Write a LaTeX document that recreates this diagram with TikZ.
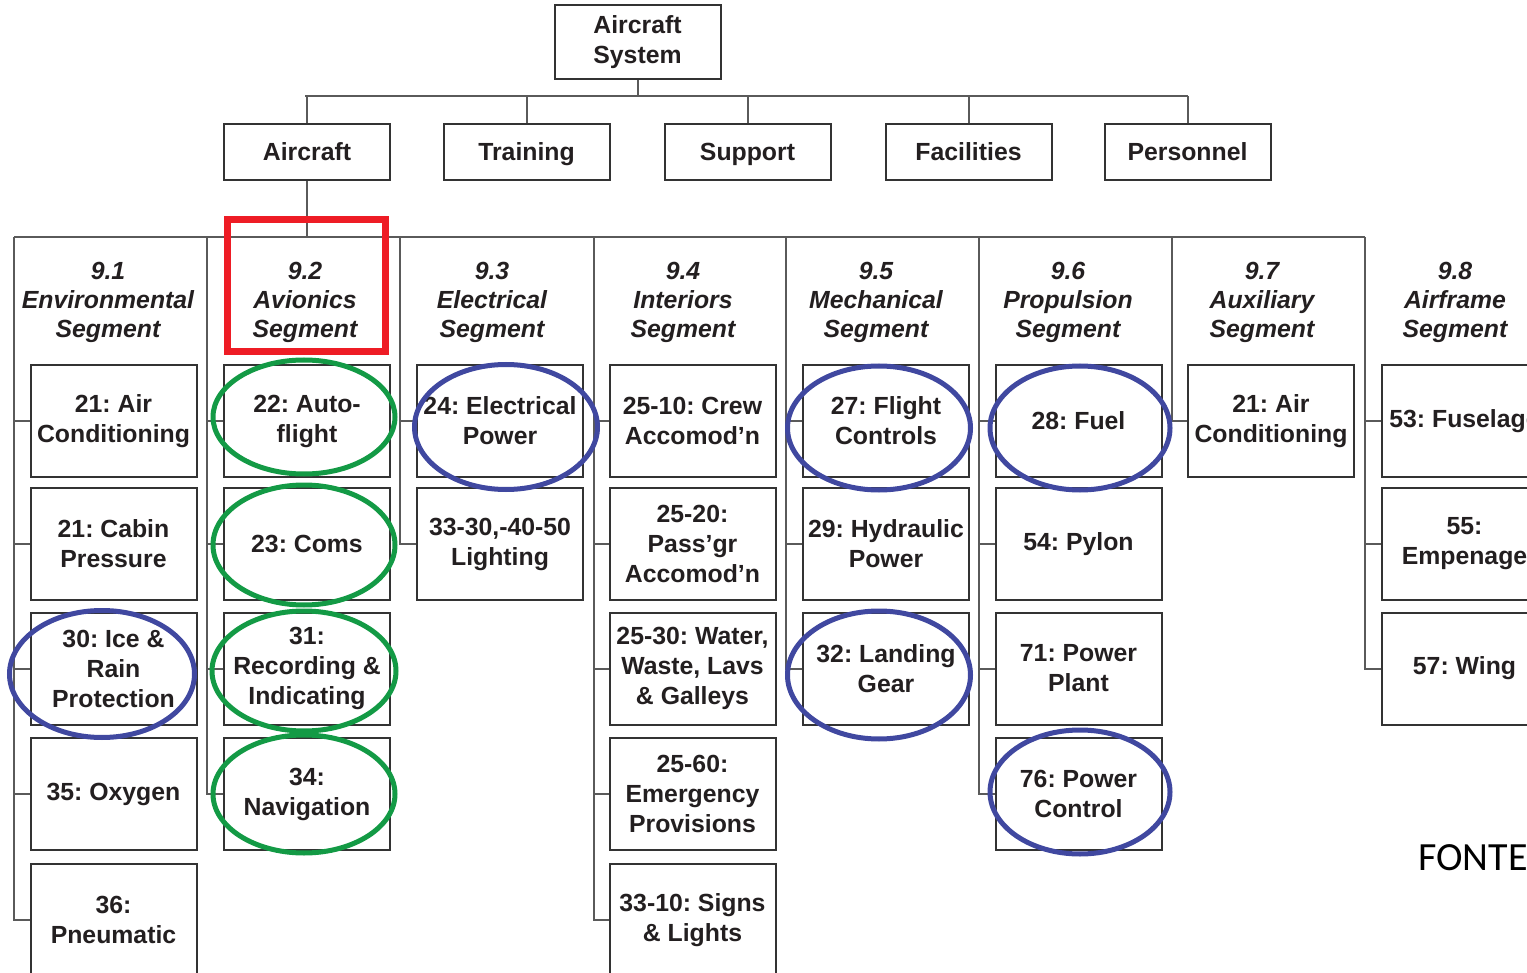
\documentclass[tikz,border=0pt]{standalone}
\usepackage{fontspec}
\setmainfont{Liberation Sans}
\newfontfamily\notefont{Carlito}
\usetikzlibrary{calc}
\frenchspacing

\definecolor{ink}{HTML}{231F20}
\definecolor{boxline}{HTML}{333333}
\definecolor{wire}{HTML}{5A5A5A}
\definecolor{markred}{HTML}{EE1C25}
\definecolor{markgreen}{HTML}{139A45}
\definecolor{markblue}{HTML}{4048A0}

\newcommand\boxfnt{\fontsize{12.4}{15}\selectfont\bfseries}
\newcommand\segfnt{\fontsize{12.4}{14.5}\selectfont\bfseries\itshape}

\tikzset{
  wbox/.style={draw=boxline, line width=1pt, fill=white, minimum width=83pt,
    minimum height=56pt, inner sep=0pt, align=center, font=\boxfnt, text=ink},
  topbox/.style={wbox, minimum height=37pt},
  lvlbox/.style={wbox, minimum height=28pt, text height=10pt, text depth=1.6pt},
  seghead/.style={align=center, font=\segfnt, text=ink, inner sep=0pt},
  wiring/.style={draw=wire, line width=1pt},
  greenmark/.style={draw=markgreen, line width=2.5pt},
  bluemark/.style={draw=markblue, line width=2.5pt},
  redmark/.style={draw=markred, line width=3.5pt},
}

\begin{document}
\begin{tikzpicture}[x=0.5pt, y=-0.5pt]
\useasboundingbox (0,0) rectangle (1527,973);
\clip (0,0) rectangle (1527,973);

% top levels
\node[topbox] (root) at (637.5,42) {Aircraft\\System};
\node[lvlbox] (aircraft)   at (307,152)    {Aircraft};
\node[lvlbox] (training)   at (526.5,152)  {Training};
\node[lvlbox] (support)    at (747.5,152)  {Support};
\node[lvlbox] (facilities) at (968.5,152)  {Facilities};
\node[lvlbox] (personnel)  at (1187.5,152) {Personnel};

% second-level bus
\coordinate (busL) at (305,96);
\coordinate (busR) at (1188,96);
\draw[wiring] (busL) -- (busR);
\draw[wiring] (root.south) -- (root.south |- busL);
\foreach \n in {aircraft,training,support,facilities,personnel}
  \draw[wiring] (\n.north) -- (\n.north |- busL);

% segment bus
\coordinate (segL) at (14,237);
\coordinate (segR) at (1365,237);
\draw[wiring] (segL) -- (segR);
\draw[wiring] (aircraft.south) -- (aircraft.south |- segL);

% segment headings
\node[seghead] (s1) at (108,302)  {9.1\\Environmental\\Segment};
\node[seghead] (s2) at (305,302)  {9.2\\Avionics\\Segment};
\node[seghead] (s3) at (492,302)  {9.3\\Electrical\\Segment};
\node[seghead] (s4) at (683,302)  {9.4\\Interiors\\Segment};
\node[seghead] (s5) at (876,302)  {9.5\\Mechanical\\Segment};
\node[seghead] (s6) at (1068,302) {9.6\\Propulsion\\Segment};
\node[seghead] (s7) at (1262,302) {9.7\\Auxiliary\\Segment};
\node[seghead] (s8) at (1455,302) {9.8\\Airframe\\Segment};

% column rails
\coordinate (c1) at (14,237);
\coordinate (c2) at (207,237);
\coordinate (c3) at (400,237);
\coordinate (c4) at (594,237);
\coordinate (c5) at (786,237);
\coordinate (c6) at (979,237);
\coordinate (c7) at (1172,237);
\coordinate (c8) at (1365,237);

% 9.1 Environmental
\node[wbox] (e21a) at (113.5,421)   {21: Air\\Conditioning};
\node[wbox] (e21b) at (113.5,544)   {21: Cabin\\Pressure};
\node[wbox] (e30)  at (113.5,668.5) {30: Ice \&\\Rain\\Protection};
\node[wbox] (e35)  at (113.5,794)   {35: Oxygen};
\node[wbox] (e36)  at (113.5,920)   {36:\\Pneumatic};
% 9.2 Avionics
\node[wbox] (v22) at (307,421)   {22: Auto-\\flight};
\node[wbox] (v23) at (307,544)   {23: Coms};
\node[wbox] (v31) at (307,668.5) {31:\\Recording \&\\Indicating};
\node[wbox] (v34) at (307,794)   {34:\\Navigation};
% 9.3 Electrical
\node[wbox] (l24) at (500,421) {24: Electrical\\Power};
\node[wbox] (l33) at (500,544) {33-30,-40-50\\Lighting};
% 9.4 Interiors
\node[wbox] (i2510) at (692.5,421)   {25-10: Crew\\Accomod’n};
\node[wbox] (i2520) at (692.5,544)   {25-20:\\Pass’gr\\Accomod’n};
\node[wbox] (i2530) at (692.5,668.5) {25-30: Water,\\Waste, Lavs\\\& Galleys};
\node[wbox] (i2560) at (692.5,794)   {25-60:\\Emergency\\Provisions};
\node[wbox] (i3310) at (692.5,920)   {33-10: Signs\\\& Lights};
% 9.5 Mechanical
\node[wbox] (m27) at (886,421)   {27: Flight\\Controls};
\node[wbox] (m29) at (886,544)   {29: Hydraulic\\Power};
\node[wbox] (m32) at (886,668.5) {32: Landing\\Gear};
% 9.6 Propulsion
\node[wbox] (p28) at (1078.5,421)   {28: Fuel};
\node[wbox] (p54) at (1078.5,544)   {54: Pylon};
\node[wbox] (p71) at (1078.5,668.5) {71: Power\\Plant};
\node[wbox] (p76) at (1078.5,794)   {76: Power\\Control};
% 9.7 Auxiliary
\node[wbox] (x21) at (1271,421) {21: Air\\Conditioning};
% 9.8 Airframe
\node[wbox] (f53) at (1464.5,421)   {53: Fuselage};
\node[wbox] (f55) at (1464.5,544)   {55:\\Empenage};
\node[wbox] (f57) at (1464.5,668.5) {57: Wing};

% rails and stubs
\draw[wiring] (c1) -- (c1 |- e36.west) -- (e36.west);
\foreach \n in {e21a,e21b,e30,e35} \draw[wiring] (\n.west) -- (\n.west -| c1);
\draw[wiring] (c2) -- (c2 |- v34.west) -- (v34.west);
\foreach \n in {v22,v23,v31} \draw[wiring] (\n.west) -- (\n.west -| c2);
\draw[wiring] (c3) -- (c3 |- l33.west) -- (l33.west);
\draw[wiring] (l24.west) -- (l24.west -| c3);
\draw[wiring] (c4) -- (c4 |- i3310.west) -- (i3310.west);
\foreach \n in {i2510,i2520,i2530,i2560} \draw[wiring] (\n.west) -- (\n.west -| c4);
\draw[wiring] (c5) -- (c5 |- m32.west) -- (m32.west);
\foreach \n in {m27,m29} \draw[wiring] (\n.west) -- (\n.west -| c5);
\draw[wiring] (c6) -- (c6 |- p76.west) -- (p76.west);
\foreach \n in {p28,p54,p71} \draw[wiring] (\n.west) -- (\n.west -| c6);
\draw[wiring] (c7) -- (c7 |- x21.west) -- (x21.west);
\draw[wiring] (c8) -- (c8 |- f57.west) -- (f57.west);
\foreach \n in {f53,f55} \draw[wiring] (\n.west) -- (\n.west -| c8);

% highlighted avionics items
\draw[greenmark] ($(v22)+(-3,-4)$)  ellipse [x radius=45.5pt, y radius=28.5pt];
\draw[greenmark] ($(v23)+(-3,1)$)   ellipse [x radius=45.5pt, y radius=30pt];
\draw[greenmark] ($(v31)+(-3,2.5)$) ellipse [x radius=46pt, y radius=30pt];
\draw[greenmark] ($(v34)+(-3,0)$)   ellipse [x radius=45.5pt, y radius=29.5pt];

% highlighted items in other segments
\draw[bluemark] ($(e30)+(-11.5,5.5)$) ellipse [x radius=46.25pt, y radius=31.75pt];
\draw[bluemark] ($(l24)+(6,6)$)       ellipse [x radius=45.75pt, y radius=31.25pt];
\draw[bluemark] ($(m27)+(-7,7)$)      ellipse [x radius=45.75pt, y radius=31pt];
\draw[bluemark] ($(p28)+(1.5,7)$)     ellipse [x radius=45pt, y radius=31pt];
\draw[bluemark] ($(m32)+(-7,6.5)$)    ellipse [x radius=45.75pt, y radius=32pt];
\draw[bluemark] ($(p76)+(1.5,-2)$)    ellipse [x radius=45pt, y radius=31pt];

% avionics segment frame
\draw[redmark] (227.5,219.5) rectangle (385.5,351.5);

% source note
\node[anchor=base west, inner sep=0pt, font=\notefont\fontsize{20}{24}\selectfont, text=black] (note) at (1418,870) {FONTE};
\end{tikzpicture}
\end{document}
